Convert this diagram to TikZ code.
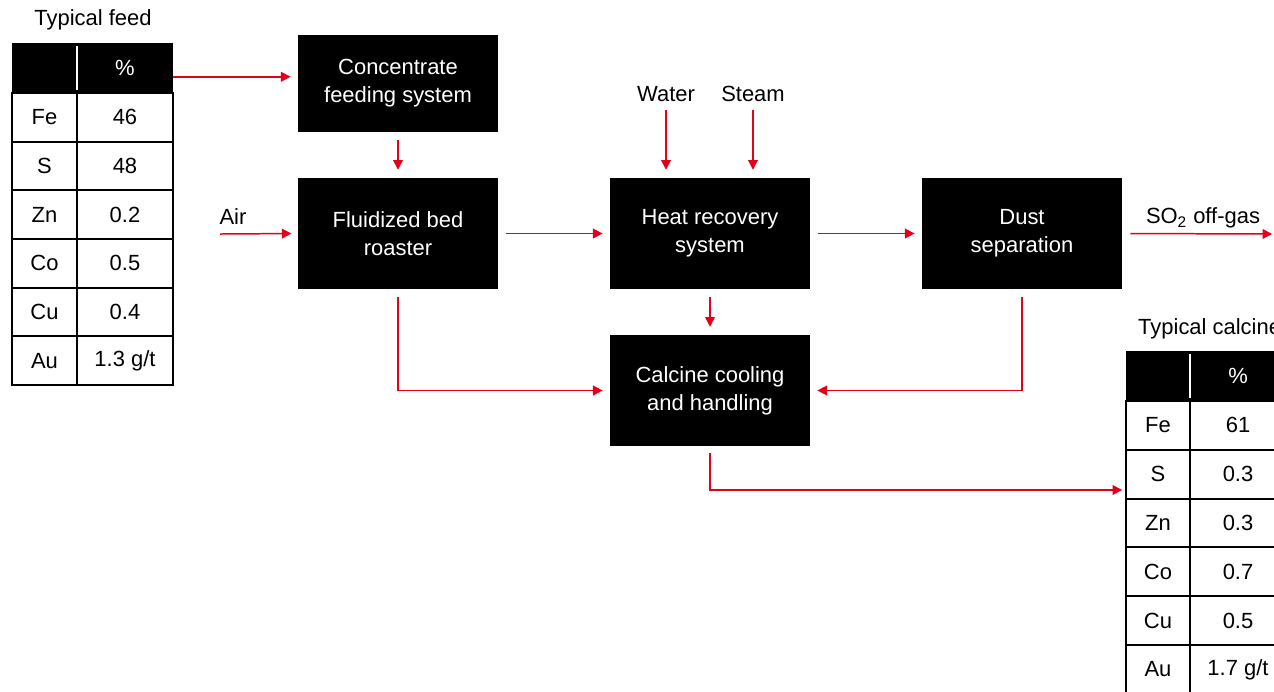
\documentclass[tikz,border=0pt]{standalone}
\usepackage{fontspec}
\setmainfont{Liberation Sans}
\usetikzlibrary{arrows.meta, positioning}
\definecolor{flowred}{RGB}{226,0,26}

\begin{document}
\begin{tikzpicture}[
  x=0.02cm, y=-0.02cm,
  pbox/.style={
    rectangle, fill=black, text=white, align=center,
    minimum width=4cm, minimum height=2.22cm, inner sep=2pt,
    font=\fontsize{12.5}{16}\selectfont
  },
  cell/.style={
    rectangle, draw=black, line width=1.1pt, inner sep=0pt,
    minimum width=#1, minimum height=0.975cm,
    font=\fontsize{12.5}{15}\selectfont
  },
  hcell/.style={
    rectangle, fill=black, text=white, inner sep=0pt,
    minimum width=#1, minimum height=1cm,
    font=\fontsize{12.5}{15}\selectfont
  },
  lbl/.style={font=\fontsize{12.5}{15}\selectfont},
  arr/.style={-{Triangle[length=5.5pt, width=5.5pt]}, draw=flowred, line width=0.85pt},
  node distance=0.45cm
]
\clip (0,0) rectangle (1274,691);

% === Typical feed table ===
\node[lbl] (feedlbl) at (93,20) {Typical feed};
\node[hcell=1.3cm]  (fh-a) at (44.5,68) {};
\node[hcell=1.92cm] (fh-b) at (125,68) {\%};
\draw[white, line width=1pt] (77,46) -- (77,90);
\foreach \el/\val [count=\i] in {Fe/46, S/48, Zn/0.2, Co/0.5, Cu/0.4, Au/{1.3 g/t}} {
  \node[cell=1.3cm]  (f-\i-a) at (44.5,{93+48.67*(\i-0.5)}) {\el};
  \node[cell=1.92cm] (f-\i-b) at (125,{93+48.67*(\i-0.5)}) {\val};
}

% === Process boxes ===
\node[pbox, minimum height=1.94cm] (conc) at (398,83.5) {Concentrate\\feeding system};
\node[pbox] (roast) at (398,233.5) {Fluidized bed\\roaster};
\node[pbox] (heat)  at (710,233.5) {Heat recovery\\system};
\node[pbox] (dust)  at (1022,233.5) {Dust\\separation};
\node[pbox] (calc)  at (710,390.5) {Calcine cooling\\and handling};

% === Inputs / outputs ===
\node[lbl] (air)   at (233,217) {Air};
\node[lbl] (water) at (666,94) {Water};
\node[lbl] (steam) at (753,94) {Steam};
\node[lbl] (gas)   at (1203,218) {SO\textsubscript{2} off-gas};
\coordinate (airin)  at (220,234);
\coordinate (gasout) at (1274,234);
\coordinate (calcin) at (1124,490);

% === Typical calcine table ===
\node[lbl, anchor=west] (calclbl) at (1132,329) {Typical calcine};
\node[hcell=1.28cm] (ch-a) at (1158,376) {};
\node[hcell=1.92cm] (ch-b) at (1238,376) {\%};
\draw[white, line width=1pt] (1190,354) -- (1190,398);
\foreach \el/\val [count=\i] in {Fe/61, S/0.3, Zn/0.3, Co/0.7, Cu/0.5, Au/{1.7 g/t}} {
  \node[cell=1.28cm] (c-\i-a) at (1158,{401+48.8*(\i-0.5)}) {\el};
  \node[cell=1.92cm] (c-\i-b) at (1238,{401+48.8*(\i-0.5)}) {\val};
}

% === ARROWS ===
\draw[arr, shorten >=4pt] ([yshift=-5pt]fh-b.east) -- ([yshift=-5pt]fh-b.east -| conc.west);
\draw[arr, shorten <=4.5pt, shorten >=4.5pt] (conc.south) -- (roast.north);
\draw[arr, shorten >=3.5pt] (airin) -- (roast.west);
\draw[arr, shorten <=4.5pt, shorten >=4pt] (roast.east) -- (heat.west);
\draw[arr, shorten <=4.5pt, shorten >=4pt] (heat.east) -- (dust.west);
\draw[arr, shorten <=4.5pt, shorten >=1pt] (dust.east) -- (gasout);
\draw[arr, shorten <=1pt, shorten >=4.5pt] (water.south) -- (water.south |- heat.north);
\draw[arr, shorten <=1pt, shorten >=4.5pt] (steam.south) -- (steam.south |- heat.north);
\draw[arr, shorten <=4.5pt, shorten >=4.5pt] (heat.south) -- (calc.north);
\draw[arr, shorten <=4.5pt, shorten >=4pt] (roast.south) |- (calc.west);
\draw[arr, shorten <=4.5pt, shorten >=4pt] (dust.south) |- (calc.east);
\draw[arr, shorten <=4pt, shorten >=1pt] (calc.south) |- (calcin);

\end{tikzpicture}
\end{document}
